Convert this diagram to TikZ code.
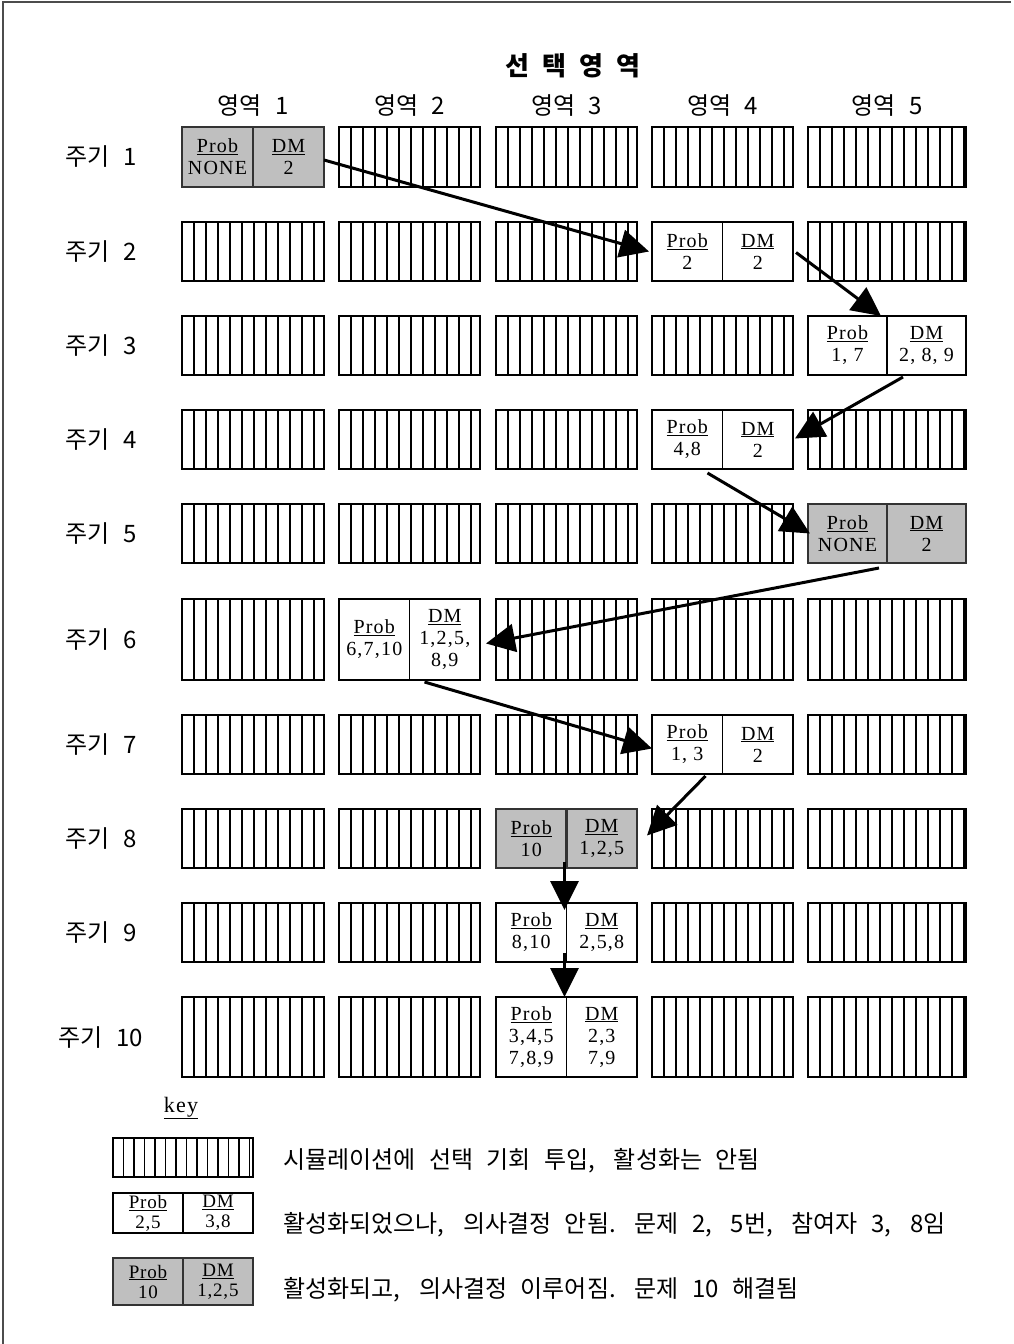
\documentclass[tikz,border=0pt]{standalone}
\usepackage{fontspec}
\setmainfont{Liberation Serif}
\newfontfamily\kr[WordSpace=2.5]{Noto Sans CJK KR}
\newcommand\kc{\makebox[12pt][l]{,}}
\newcommand\kp{\makebox[12pt][l]{.}}
\usetikzlibrary{arrows.meta,calc}
\tikzset{
  bx/.style={draw=black, line width=1.2pt, inner sep=0pt, outer sep=0pt},
  hatch/.style={bx, path picture={\foreach \k in {1,...,16}{\draw[line width=1.2pt] ([xshift=\k*#1]path picture bounding box.south west) -- ([xshift=\k*#1]path picture bounding box.north west);}}},
  act/.style={bx, fill=white},
  done/.style={draw=black!80, line width=2.6pt, fill=black!25, inner sep=0pt, outer sep=0pt},
  cell/.style={font=\addfontfeature{LetterSpace=6}\fontsize{20}{22}\selectfont, align=center, inner sep=0pt},
  lab/.style={font=\kr\fontsize{24}{26}\selectfont, inner sep=0pt},
  arr/.style={line width=3pt, -{Triangle[length=29pt,width=28pt]}},
  frame/.style={draw=black!70, line width=2pt},
}
\newcommand\abox[8]{%
  \node[#6, minimum width=#4pt, minimum height=#5pt] (#1) at (#2,#3) {};
  \draw[#6, fill=none] (#1.north) -- (#1.south);
  \node[cell] at ($(#1.center)!0.5!(#1.west)$) {\underline{Prob}\\#7};
  \node[cell] at ($(#1.center)!0.5!(#1.east)$) {\underline{DM}\\#8};}
\begin{document}
\begin{tikzpicture}[x=1pt,y=-1pt]
\useasboundingbox (0,0) rectangle (1013,1344);
\fill[white] (0,0) rectangle (1013,1344);
\draw[frame] (3,1344) -- (3,2) -- (1011,2);

\node[font=\kr\bfseries\fontsize{26}{28}\selectfont, inner sep=0pt] (title) at (573,66) {선\hspace{13pt}택\hspace{13pt}영\hspace{13pt}역};

% grid of hatched boxes
\foreach \c/\l/\w in {1/182/142, 2/339/141, 3/496/141, 4/652/141, 5/808/158}{
  \node[lab] (hd\c) at ({\l+\w/2},106) {영역 \c};
  \foreach \r/\t/\h in {1/127/60, 2/222/59, 3/316/59, 4/410/59, 5/504/59, 6/599/81, 7/715/59, 8/809/59, 9/903/59, 10/997/80}{
    \node[hatch=12pt, minimum width=\w pt, minimum height=\h pt] (h\r-\c) at ({\l+\w/2},{\t+\h/2}) {};
  }
}
\foreach \r/\t/\h in {1/127/60, 2/222/59, 3/316/59, 4/410/59, 5/504/59, 6/599/81, 7/715/59, 8/809/59, 9/903/59, 10/997/80}{
  \node[lab] (rl\r) at (101,{\t+\h/2}) {주기 \r};
}

% active boxes
\abox{a1}{253}{157}{142}{60}{done}{NONE}{2}
\abox{a2}{722.5}{251.5}{141}{59}{act}{2}{2}
\abox{a3}{887}{345.5}{158}{59}{act}{1, 7}{2, 8, 9}
\abox{a4}{722.5}{439.5}{141}{59}{act}{4,8}{2}
\abox{a5}{887}{533.5}{158}{59}{done}{NONE}{2}
\abox{a6}{409.5}{639.5}{141}{81}{act}{6,7,10}{1,2,5,\\8,9}
\abox{a7}{722.5}{744.5}{141}{59}{act}{1, 3}{2}
\abox{a8}{566.5}{838.5}{141}{59}{done}{10}{1,2,5}
\abox{a9}{566.5}{932.5}{141}{59}{act}{8,10}{2,5,8}
\abox{a10}{566.5}{1037}{141}{80}{act}{3,4,5\\7,8,9}{2,3\\7,9}

% arrows
\draw[arr] ($(a1.east)+(0,3)$) -- ($(a2.west)+(-3,0)$);
\draw[arr] ($(a2.east)+(3,1)$) -- ($(a3.north)+(-6,0)$);
\draw[arr] ($(a3.south)+(16,2)$) -- ($(a4.east)+(2,-1)$);
\draw[arr] ($(a4.south)+(-15,4)$) -- ($(a5.west)+(2,0)$);
\draw[arr] ($(a5.south)+(-8,5)$) -- ($(a6.east)+(6,4)$);
\draw[arr] ($(a6.south)+(15,2)$) -- ($(a7.west)+(0,4)$);
\draw[arr] ($(a7.south)+(-17,2)$) -- ($(a8.east)+(10,-3)$);
\draw[arr] ($(a8.south)+(-2,-6)$) -- ($(a9.north)+(-2,7)$);
\draw[arr] ($(a9.south)+(-2,-9)$) -- ($(a10.north)+(-2,0)$);

% legend
\node[font=\addfontfeature{LetterSpace=6}\fontsize{22}{24}\selectfont, inner sep=0pt] (key) at (181,1108) {\underline{key}};
\node[hatch=10.5pt, minimum width=140pt, minimum height=39pt] (l1) at (183,1157.5) {};
\begin{scope}[cell/.style={font=\addfontfeature{LetterSpace=4}\fontsize{19}{20}\selectfont, align=center, inner sep=0pt}]
\abox{l2}{183}{1213}{140}{40}{act}{2,5}{3,8}
\abox{l3}{183}{1281.5}{140}{47}{done}{10}{1,2,5}
\end{scope}
\node[lab, anchor=west] (t1) at (283,1161) {시뮬레이션에 선택 기회 투입\kc{} 활성화는 안됨};
\node[lab, anchor=west] (t2) at (283,1225) {활성화되었으나\kc{} 의사결정 안됨\kp{} 문제 2\kc{} 5번\kc{} 참여자 3\kc{} 8임};
\node[lab, anchor=west] (t3) at (283,1290) {활성화되고\kc{} 의사결정 이루어짐\kp{} 문제 10 해결됨};
\end{tikzpicture}
\end{document}
